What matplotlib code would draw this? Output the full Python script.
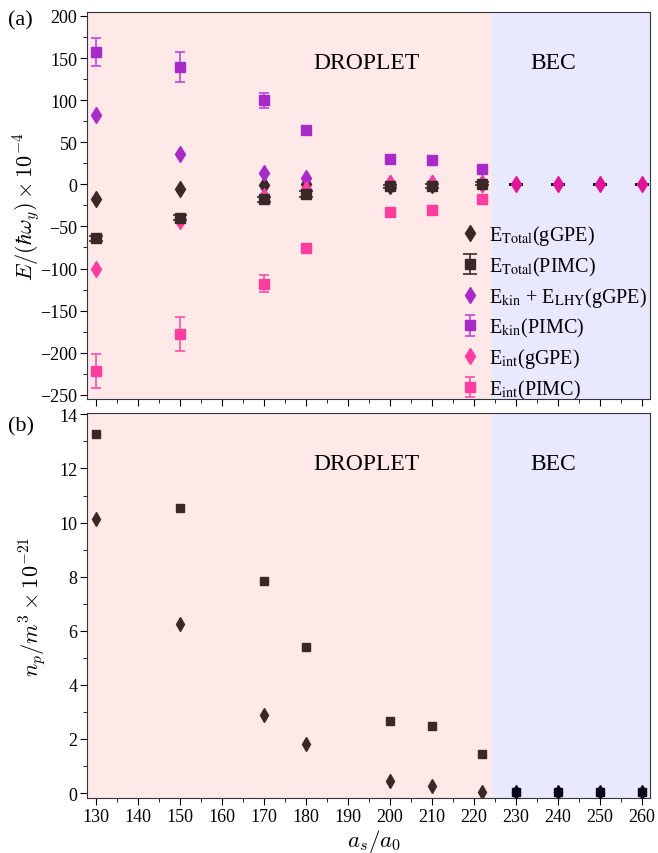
import numpy as np
import matplotlib
matplotlib.use("Agg")
import matplotlib.pyplot as plt
from matplotlib.ticker import MultipleLocator
from matplotlib.font_manager import FontProperties

plt.rcParams['font.family'] = ['Liberation Serif', 'DejaVu Serif']
plt.rcParams['mathtext.fontset'] = 'cm'
plt.rcParams['axes.unicode_minus'] = True

# scattering length a_s/a_0 (droplet side and BEC side)
x_drop = [130, 150, 170, 180, 200, 210, 222]
x_bec = [230, 240, 250, 260]

# energies in units of hbar*omega_y * 1e-4
e_tot_gpe = [-18, -6, -1, 0, -1.5, -1, 0]
e_tot_pimc = [-64, -39.5, -18, -11.5, -2.3, -2, 0.8]
e_tot_pimc_err = [3, 3, 3, 3, 2, 2, 2]
e_kin_gpe = [82.5, 36, 14, 8, 2, 2, 1]
e_kin_pimc = [157, 139, 100, 64.5, 30, 28.5, 18]
e_kin_pimc_err = [17, 18, 9, 4, 2, 2, 2]
e_int_gpe = [-101, -43.5, -14, -5, 1, 1, 0]
e_int_pimc = [-222, -178, -118, -76, -33, -30.5, -18]
e_int_pimc_err = [20, 20, 10, 3, 2, 2, 2]
e_bec = [0, 0, 0, 0]

# peak density n_p / m^3 * 1e-21
n_pimc = [13.27, 10.55, 7.84, 5.40, 2.68, 2.49, 1.44]
n_gpe = [10.15, 6.25, 2.90, 1.80, 0.43, 0.25, 0.03]
n_bec = [0.03, 0.03, 0.03, 0.03]

brown = '#3a2828'
purple = '#a82ac8'
pink = '#ff3d9e'
magenta = '#e0159a'
navy = '#080818'
boundary = 224.3

fig = plt.figure(figsize=(6.58, 8.54), dpi=100)
ax1 = fig.add_axes([0.1322, 0.5316, 0.8556, 0.4535])
ax2 = fig.add_axes([0.1322, 0.0642, 0.8556, 0.4510])

for ax in (ax1, ax2):
    ax.axvspan(120, boundary, color='red', alpha=0.09, lw=0, zorder=0)
    ax.axvspan(boundary, 270, color='blue', alpha=0.09, lw=0, zorder=0)
    ax.set_xlim(127.8, 262)
    ax.xaxis.set_major_locator(MultipleLocator(10))
    ax.xaxis.set_minor_locator(MultipleLocator(5))
    ax.tick_params(which='both', direction='out', labelsize=13, top=False, right=False)
    ax.tick_params(which='major', length=5, pad=2)
    ax.tick_params(which='minor', length=3)
    for s in ax.spines.values():
        s.set_color('#333344')
    ax.text(0.496, 0.87, 'DROPLET', transform=ax.transAxes, ha='center', va='center', fontsize=17)
    ax.text(0.828, 0.87, 'BEC', transform=ax.transAxes, ha='center', va='center', fontsize=17)

# panel (a)
ax1.plot(x_drop, e_tot_gpe, 'd', color=brown, ms=8.5, zorder=3, label=r'E$_{\mathrm{Total}}$(gGPE)')
ax1.plot(x_drop, e_kin_gpe, 'd', color=purple, ms=8.5, zorder=3, label=r'E$_{\mathrm{kin}}$ + E$_{\mathrm{LHY}}$(gGPE)')
ax1.plot(x_drop, e_int_gpe, 'd', color=pink, ms=8.5, zorder=3, label=r'E$_{\mathrm{int}}$(gGPE)')
ax1.errorbar(x_drop, e_kin_pimc, yerr=e_kin_pimc_err, fmt='s', color=purple, ecolor='#c052dc',
             ms=6.5, capsize=3.7, elinewidth=1.3, capthick=1.3, zorder=4, label=r'E$_{\mathrm{kin}}$(PIMC)')
ax1.errorbar(x_drop, e_int_pimc, yerr=e_int_pimc_err, fmt='s', color=pink, ecolor='#ff5aab',
             ms=6.5, capsize=3.7, elinewidth=1.3, capthick=1.3, zorder=4, label=r'E$_{\mathrm{int}}$(PIMC)')
ax1.errorbar(x_drop, e_tot_pimc, yerr=e_tot_pimc_err, fmt='s', color=brown, ecolor='#4a3a3a',
             ms=7.5, capsize=5, elinewidth=1.3, capthick=1.3, zorder=5, label=r'E$_{\mathrm{Total}}$(PIMC)')
ax1.errorbar(x_bec, e_bec, yerr=[0.5] * 4, fmt='none', ecolor='black', capsize=5, capthick=1.3, zorder=5)
ax1.plot(x_bec, e_bec, 'd', color=magenta, ms=8.5, zorder=6)

ax1.set_ylim(-255, 205)
ax1.yaxis.set_major_locator(MultipleLocator(50))
ax1.yaxis.set_minor_locator(MultipleLocator(25))
ax1.tick_params(labelbottom=False)
ax1.set_ylabel(r'$E/(\hbar\omega_y)\times10^{-4}$', fontsize=16)
ax1.yaxis.set_label_coords(-0.08, 0.5)

h, l = ax1.get_legend_handles_labels()
order = [l.index(k) for k in [r'E$_{\mathrm{Total}}$(gGPE)', r'E$_{\mathrm{Total}}$(PIMC)',
                              r'E$_{\mathrm{kin}}$ + E$_{\mathrm{LHY}}$(gGPE)', r'E$_{\mathrm{kin}}$(PIMC)',
                              r'E$_{\mathrm{int}}$(gGPE)', r'E$_{\mathrm{int}}$(PIMC)']]
prop = FontProperties(family='Liberation Serif', size=14.5, math_fontfamily='stix')
ax1.legend([h[i] for i in order], [l[i] for i in order], loc='lower right', prop=prop,
           frameon=False, handlelength=0.9, handletextpad=0.5, labelspacing=0.36,
           borderaxespad=0.1, bbox_to_anchor=(1.012, -0.03))

# panel (b)
ax2.plot(x_drop, n_pimc, 's', color=brown, ms=6.0, zorder=3)
ax2.plot(x_drop, n_gpe, 'd', color=brown, ms=6.8, zorder=3)
ax2.plot(x_bec, n_bec, 's', color=navy, ms=6.0, zorder=3)
ax2.plot(x_bec, n_bec, 'd', color=navy, ms=6.8, zorder=3)
ax2.set_ylim(-0.19, 14.05)
ax2.yaxis.set_major_locator(MultipleLocator(2))
ax2.yaxis.set_minor_locator(MultipleLocator(1))
ax2.set_ylabel(r'$n_p/m^3\times10^{-21}$', fontsize=16)
ax2.yaxis.set_label_coords(-0.07, 0.5)
ax2.set_xlabel(r'$a_s/a_0$', fontsize=16.5)
ax2.xaxis.set_label_coords(0.5678, 0.031, transform=fig.transFigure)

fig.text(0.012, 0.975, '(a)', fontsize=16, va='center')
fig.text(0.012, 0.5, '(b)', fontsize=16, va='center')

fig.savefig('out.png', dpi=100)
